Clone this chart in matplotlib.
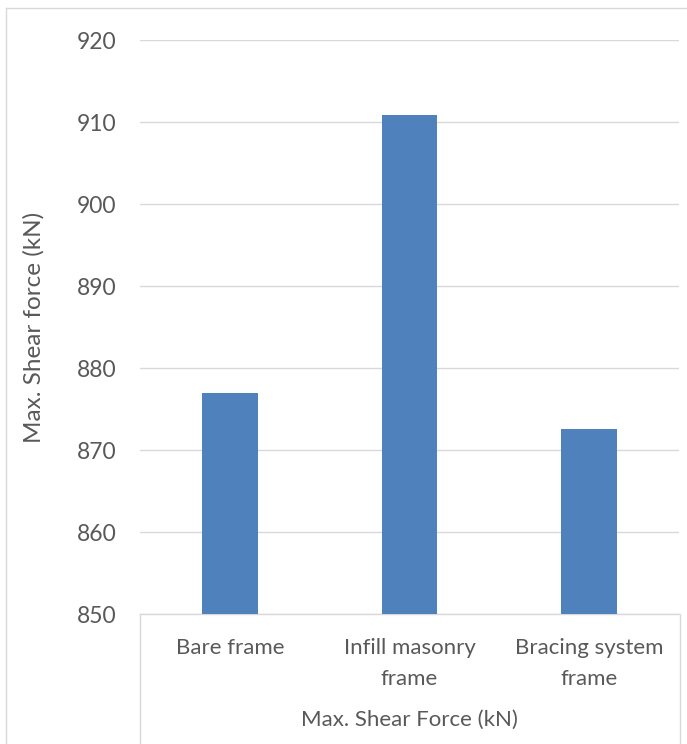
import matplotlib
matplotlib.use('Agg')
import matplotlib.pyplot as plt
from matplotlib.lines import Line2D

# shear force results per frame type
frames = ['Bare frame', 'Infill masonry\nframe', 'Bracing system\nframe']
shear_kN = [877.0, 910.9, 872.6]
y_ticks = [850, 860, 870, 880, 890, 900, 910, 920]

W, H = 687, 744
plt.rcParams['font.family'] = ['Lato', 'DejaVu Sans']
grey_txt = '#595959'
grey_ln = '#d9d9d9'

fig = plt.figure(figsize=(W / 100, H / 100), dpi=100)
ax = fig.add_axes([140 / W, (H - 614) / H, (679 - 140) / W, (614 - 40) / H])

ax.bar(range(len(frames)), shear_kN, width=0.31, color='#4f81bd', zorder=3)
ax.set_xlim(-0.5, len(frames) - 0.5)
ax.set_ylim(850, 920)
ax.set_yticks(y_ticks)
ax.grid(axis='y', color=grey_ln, linewidth=1.0, zorder=0)
ax.set_xticks(range(len(frames)))
ax.set_xticklabels(frames, linespacing=1.7)
ax.tick_params(axis='y', length=0, pad=17, labelsize=16.5, labelcolor=grey_txt)
ax.tick_params(axis='x', length=0, pad=17, labelsize=16, labelcolor=grey_txt)
for s in ['top', 'right', 'left']:
    ax.spines[s].set_visible(False)
ax.spines['bottom'].set_color(grey_ln)
ax.spines['bottom'].set_linewidth(1.0)

ax.set_ylabel('Max. Shear force (kN)', fontsize=17.5, color=grey_txt)
ax.yaxis.set_label_coords(-(140 - 45) / (679 - 140), 0.5)

# category axis box and chart border
def px_line(x0, y0, x1, y1):
    fig.add_artist(Line2D([x0 / W, x1 / W], [1 - y0 / H, 1 - y1 / H],
                          color=grey_ln, linewidth=1.0, transform=fig.transFigure))

px_line(140, 614, 140, 744)
px_line(680, 614, 680, 744)
px_line(6, 8, 6, 744)
px_line(6, 8, 687, 8)

fig.text(409 / W, 1 - 720 / H, 'Max. Shear Force (kN)', ha='center', va='center',
         fontsize=16, color=grey_txt)

fig.savefig('out.png', dpi=100)
